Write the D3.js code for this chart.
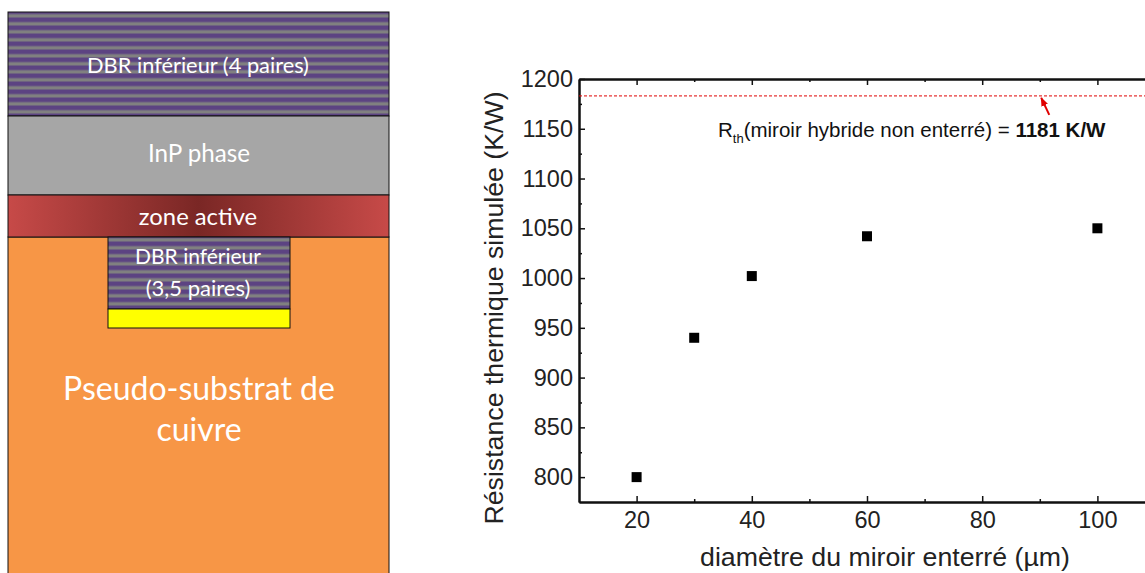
<!DOCTYPE html>
<html><head><meta charset="utf-8">
<script src="https://cdn.jsdelivr.net/npm/d3@7/dist/d3.min.js"></script>
<style>html,body{margin:0;padding:0;background:#fff;overflow:hidden}svg{display:block}</style>
</head><body><svg id="c" width="1145" height="573"></svg>
<script>
const diameters=[20,30,40,60,100];
const resistances=[800,940,1002,1042,1050];
const referenceValue=1183;
const xTicks=[20,40,60,80,100];
const xMinor=[30,50,70,90];
const yTicks=[800,850,900,950,1000,1050,1100,1150,1200];
const yMinor=[825,875,925,975,1025,1075,1125,1175];
const xLabel="diamètre du miroir enterré (µm)";
const yLabel="Résistance thermique simulée (K/W)";

const svg=d3.select("#c");
const defs=svg.append("defs");
const pat=defs.append("pattern").attr("id","dbr").attr("patternUnits","userSpaceOnUse").attr("width",10).attr("height",8);
pat.append("rect").attr("width",10).attr("height",8).attr("fill","#808080");
pat.append("rect").attr("y",1).attr("width",10).attr("height",5.6).attr("fill","#6e6281");
pat.append("rect").attr("y",2).attr("width",10).attr("height",3.6).attr("fill","#5c4382");
const grad=defs.append("linearGradient").attr("id","act");
grad.append("stop").attr("offset","0").attr("stop-color","#c74a48");
grad.append("stop").attr("offset","0.5").attr("stop-color","#7a2725");
grad.append("stop").attr("offset","1").attr("stop-color","#c74a48");

const blockFont='Lato,"Open Sans",sans-serif';
const blocks=[
 {x:8,y:237,w:381,h:340,fill:"#f79646"},
 {x:8,y:12,w:381,h:104,fill:"url(#dbr)"},
 {x:8,y:116,w:381,h:79,fill:"#a6a6a6"},
 {x:8,y:195,w:381,h:42,fill:"url(#act)"},
 {x:108,y:237,w:182,h:72,fill:"url(#dbr)"},
 {x:108,y:309,w:182,h:19,fill:"#ffff00"}
];
svg.selectAll("rect.b").data(blocks).join("rect").attr("class","b")
 .attr("x",d=>d.x).attr("y",d=>d.y).attr("width",d=>d.w).attr("height",d=>d.h)
 .attr("fill",d=>d.fill).attr("stroke","#111").attr("stroke-width",1);
const labels=[
 ["DBR inférieur (4 paires)",198,73,21.8],
 ["InP phase",199,162,24.2],
 ["zone active",198,225,23.8],
 ["DBR inférieur",198,264,21],
 ["(3,5 paires)",198,296,22],
 ["Pseudo-substrat de",199,400,32],
 ["cuivre",199,441,32]
];
svg.selectAll("text.b").data(labels).join("text").attr("class","b")
 .attr("x",d=>d[1]).attr("y",d=>d[2]).attr("font-size",d=>d[3]).text(d=>d[0])
 .attr("text-anchor","middle").attr("fill","#fff").attr("font-family",blockFont);

const x=d3.scaleLinear().domain([10,110]).range([579,1155]);
const y=d3.scaleLinear().domain([775,1200]).range([502,79]);
const g=svg.append("g").attr("font-family",'"Liberation Sans",Arial,sans-serif').attr("fill","#111");
const ink="#111";
const fmt=d3.format("d");
function styleAxis(sel){sel.select(".domain").attr("stroke",ink).attr("stroke-width",2);sel.selectAll("line").attr("stroke",ink).attr("stroke-width",1.5);sel.selectAll("text").attr("font-size",23.5).attr("font-family",'"Liberation Sans",Arial,sans-serif').attr("fill","#222");}
const bottomAxis=g.append("g").attr("transform",`translate(0,${y(775)})`);
bottomAxis.call(d3.axisBottom(x).tickValues(xMinor).tickSize(-3).tickFormat("").tickSizeOuter(0));
bottomAxis.call(styleAxis);
const bottomMaj=g.append("g").attr("transform",`translate(0,${y(775)})`);
bottomMaj.call(d3.axisBottom(x).tickValues(xTicks).tickSize(-6).tickPadding(9).tickFormat(fmt).tickSizeOuter(0)).call(styleAxis);
const leftAxis=g.append("g").attr("transform",`translate(${x(10)},0)`);
leftAxis.call(d3.axisLeft(y).tickValues(yMinor).tickSize(-3).tickFormat("").tickSizeOuter(0)).call(styleAxis);
const leftMaj=g.append("g").attr("transform",`translate(${x(10)},0)`);
leftMaj.call(d3.axisLeft(y).tickValues(yTicks).tickSize(-6).tickPadding(6).tickFormat(fmt).tickSizeOuter(0)).call(styleAxis);
const topAxis=g.append("g").attr("transform",`translate(0,${y(1200)})`);
topAxis.call(d3.axisTop(x).tickValues(xMinor).tickSize(-3).tickFormat("").tickSizeOuter(0)).call(styleAxis);
const topMaj=g.append("g").attr("transform",`translate(0,${y(1200)})`);
topMaj.call(d3.axisTop(x).tickValues(xTicks).tickSize(-6).tickFormat("").tickSizeOuter(0)).call(styleAxis);

g.append("line").attr("x1",x(10)).attr("x2",1145).attr("y1",y(referenceValue)).attr("y2",y(referenceValue))
 .attr("stroke","#e00000").attr("stroke-width",1).attr("stroke-dasharray","3,2");

const sq=10;
g.selectAll("rect.p").data(diameters).join("rect").attr("class","p")
 .attr("x",d=>x(d)-sq/2).attr("y",(d,i)=>y(resistances[i])-sq/2).attr("width",sq).attr("height",sq).attr("fill","#000");

defs.append("marker").attr("id","ah").attr("markerWidth",10).attr("markerHeight",8).attr("refX",8).attr("refY",3.5).attr("orient","auto").attr("markerUnits","userSpaceOnUse")
 .append("path").attr("d","M0,0L9,3.5L0,7Z").attr("fill","#e00000");
g.append("line").attr("x1",x(90.6)+6).attr("y1",y(referenceValue)+19).attr("x2",x(90.6)-2).attr("y2",y(referenceValue)+2)
 .attr("stroke","#e00000").attr("stroke-width",2).attr("marker-end","url(#ah)");

const ann=g.append("text").attr("x",718).attr("y",137).attr("font-size",20.5).attr("fill","#111");
ann.append("tspan").text("R");
ann.append("tspan").attr("font-size",13).attr("dy",6).text("th");
ann.append("tspan").attr("dy",-6).text("(miroir hybride non enterré) = ");
ann.append("tspan").attr("font-weight","bold").text("1181 K/W");

g.append("text").attr("x",885).attr("y",566).attr("text-anchor","middle").attr("font-size",26.7).attr("fill","#222").text(xLabel);
g.append("text").attr("transform","translate(503,308) rotate(-90)").attr("text-anchor","middle").attr("font-size",26.7).attr("fill","#222").text(yLabel);
</script></body></html>
